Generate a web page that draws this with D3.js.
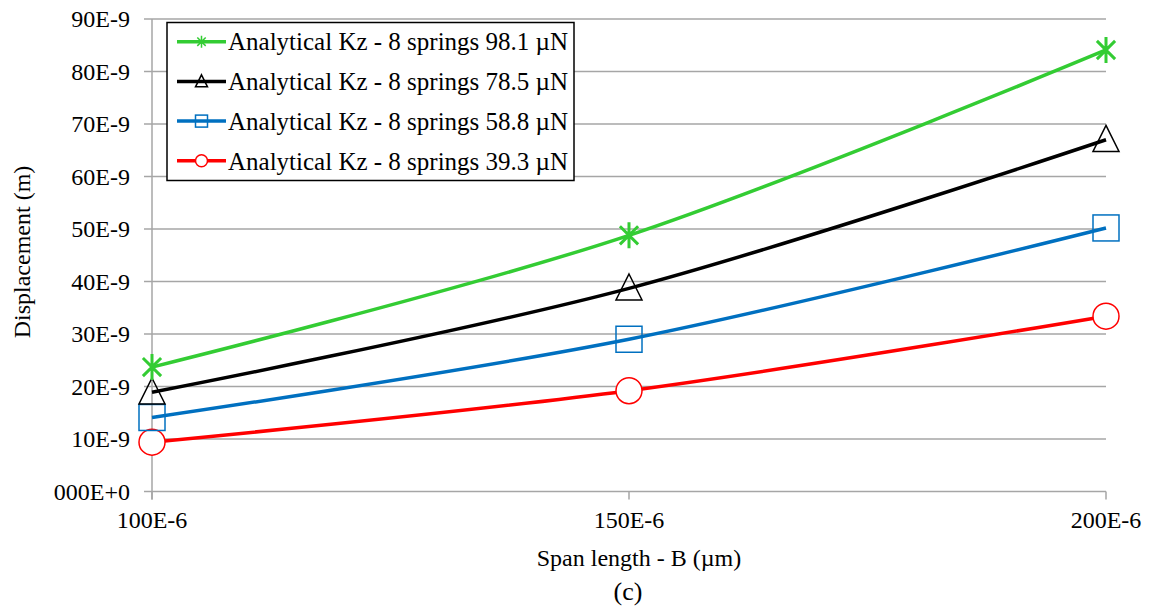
<!DOCTYPE html>
<html><head><meta charset="utf-8">
<script src="https://cdn.jsdelivr.net/npm/d3@7/dist/d3.min.js"></script>
<style>
body{margin:0;background:#fff;}
#chart text{font-family: "Liberation Serif", "DejaVu Serif", "Noto Serif", Tinos, serif;}
</style></head>
<body><svg id="chart" width="1154" height="616"></svg>
<script>
// Data
const spanLengths = [100e-6, 150e-6, 200e-6];
const xTickLabels = ["100E-6", "150E-6", "200E-6"];
const yTickValues = [0, 10e-9, 20e-9, 30e-9, 40e-9, 50e-9, 60e-9, 70e-9, 80e-9, 90e-9];
const yTickLabels = ["000E+0","10E-9","20E-9","30E-9","40E-9","50E-9","60E-9","70E-9","80E-9","90E-9"];
const seriesNames = [
  "Analytical Kz - 8 springs 98.1 \u00b5N",
  "Analytical Kz - 8 springs 78.5 \u00b5N",
  "Analytical Kz - 8 springs 58.8 \u00b5N",
  "Analytical Kz - 8 springs 39.3 \u00b5N"
];
const disp981 = [23.7e-9, 48.8e-9, 84.1e-9];
const disp785 = [18.9e-9, 38.7e-9, 67.0e-9];
const disp588 = [14.1e-9, 29.0e-9, 50.2e-9];
const disp393 = [9.4e-9, 19.2e-9, 33.4e-9];
const seriesColors = ["#33cc33", "#000000", "#0070c0", "#ff0000"];
const seriesMarkers = ["asterisk", "triangle", "square", "circle"];
const seriesValues = [disp981, disp785, disp588, disp393];

const svg = d3.select("#chart");
const x = d3.scaleLinear().domain([100e-6, 200e-6]).range([152, 1106]);
const y = d3.scaleLinear().domain([0, 90e-9]).range([491.5, 19]);
const grid = "#a6a6a6";

// horizontal gridlines
svg.append("g").selectAll("line").data(yTickValues).join("line")
  .attr("x1", 144).attr("x2", x(200e-6))
  .attr("y1", d => y(d)).attr("y2", d => y(d))
  .attr("stroke", grid).attr("stroke-width", 1.5);

// y axis line
svg.append("line").attr("x1", x(100e-6)).attr("x2", x(100e-6))
  .attr("y1", y(90e-9)).attr("y2", y(0) + 8)
  .attr("stroke", grid).attr("stroke-width", 1.5);
// x ticks
svg.append("g").selectAll("line").data(spanLengths).join("line")
  .attr("x1", d => x(d)).attr("x2", d => x(d))
  .attr("y1", y(0)).attr("y2", y(0) + 8)
  .attr("stroke", grid).attr("stroke-width", 1.5);

// y tick labels
svg.append("g").selectAll("text").data(yTickValues).join("text")
  .attr("x", 130).attr("y", d => y(d)).attr("dy", "0.35em")
  .attr("text-anchor", "end").attr("font-size", 24)
  .text((d, i) => yTickLabels[i]);
// x tick labels
svg.append("g").selectAll("text").data(spanLengths).join("text")
  .attr("x", d => x(d)).attr("y", 528)
  .attr("text-anchor", "middle").attr("font-size", 24)
  .text((d, i) => xTickLabels[i]);

// axis titles
svg.append("text").attr("transform", "translate(30,252) rotate(-90)")
  .attr("text-anchor", "middle").attr("font-size", 24).text("Displacement (m)");
svg.append("text").attr("x", 639).attr("y", 566)
  .attr("text-anchor", "middle").attr("font-size", 24).text("Span length - B (\u00b5m)");
svg.append("text").attr("x", 628).attr("y", 600)
  .attr("text-anchor", "middle").attr("font-size", 26).text("(c)");

function drawMarker(g, type, color, s) {
  const h = s / 2;
  if (type === "asterisk") {
    g.append("path").attr("d", `M0,${-h}L0,${h}M${-h*0.7},${-h*0.7}L${h*0.7},${h*0.7}M${-h*0.7},${h*0.7}L${h*0.7},${-h*0.7}`)
      .attr("stroke", color).attr("stroke-width", s > 15 ? 3 : 1.5).attr("fill", "none");
  } else if (type === "triangle") {
    g.append("path").attr("d", `M0,${-h*1.1}L${h},${h*0.9}L${-h},${h*0.9}Z`)
      .attr("stroke", color).attr("stroke-width", 1.5).attr("fill", "none");
  } else if (type === "square") {
    g.append("rect").attr("x", -h).attr("y", -h).attr("width", s).attr("height", s)
      .attr("stroke", color).attr("stroke-width", 1.5).attr("fill", "none");
  } else {
    g.append("circle").attr("r", h).attr("stroke", color).attr("stroke-width", 1.5).attr("fill", "#fff");
  }
}

const line = d3.line().x((d, i) => x(spanLengths[i])).y(d => y(d)).curve(d3.curveCatmullRom.alpha(0));

// draw series bottom to top (red first)
for (let k = seriesValues.length - 1; k >= 0; k--) {
  const vals = seriesValues[k];
  svg.append("path").attr("d", line(vals)).attr("fill", "none")
    .attr("stroke", seriesColors[k]).attr("stroke-width", 3.5);
  vals.forEach((v, i) => {
    const g = svg.append("g").attr("transform", `translate(${x(spanLengths[i])},${y(v)})`);
    drawMarker(g, seriesMarkers[k], seriesColors[k], 26);
  });
}

// legend
const lg = svg.append("g");
lg.append("rect").attr("x", 167).attr("y", 22.5).attr("width", 407).attr("height", 158)
  .attr("fill", "#fff").attr("stroke", "#000").attr("stroke-width", 1.5);
seriesNames.forEach((name, k) => {
  const yy = 41.7 + k * 39.7;
  lg.append("line").attr("x1", 177).attr("x2", 226).attr("y1", yy).attr("y2", yy)
    .attr("stroke", seriesColors[k]).attr("stroke-width", 3.5);
  const g = lg.append("g").attr("transform", `translate(201.5,${yy})`);
  drawMarker(g, seriesMarkers[k], seriesColors[k], 12);
  lg.append("text").attr("x", 228).attr("y", yy).attr("dy", "0.35em")
    .attr("font-size", 25).text(name);
});
</script></body></html>
